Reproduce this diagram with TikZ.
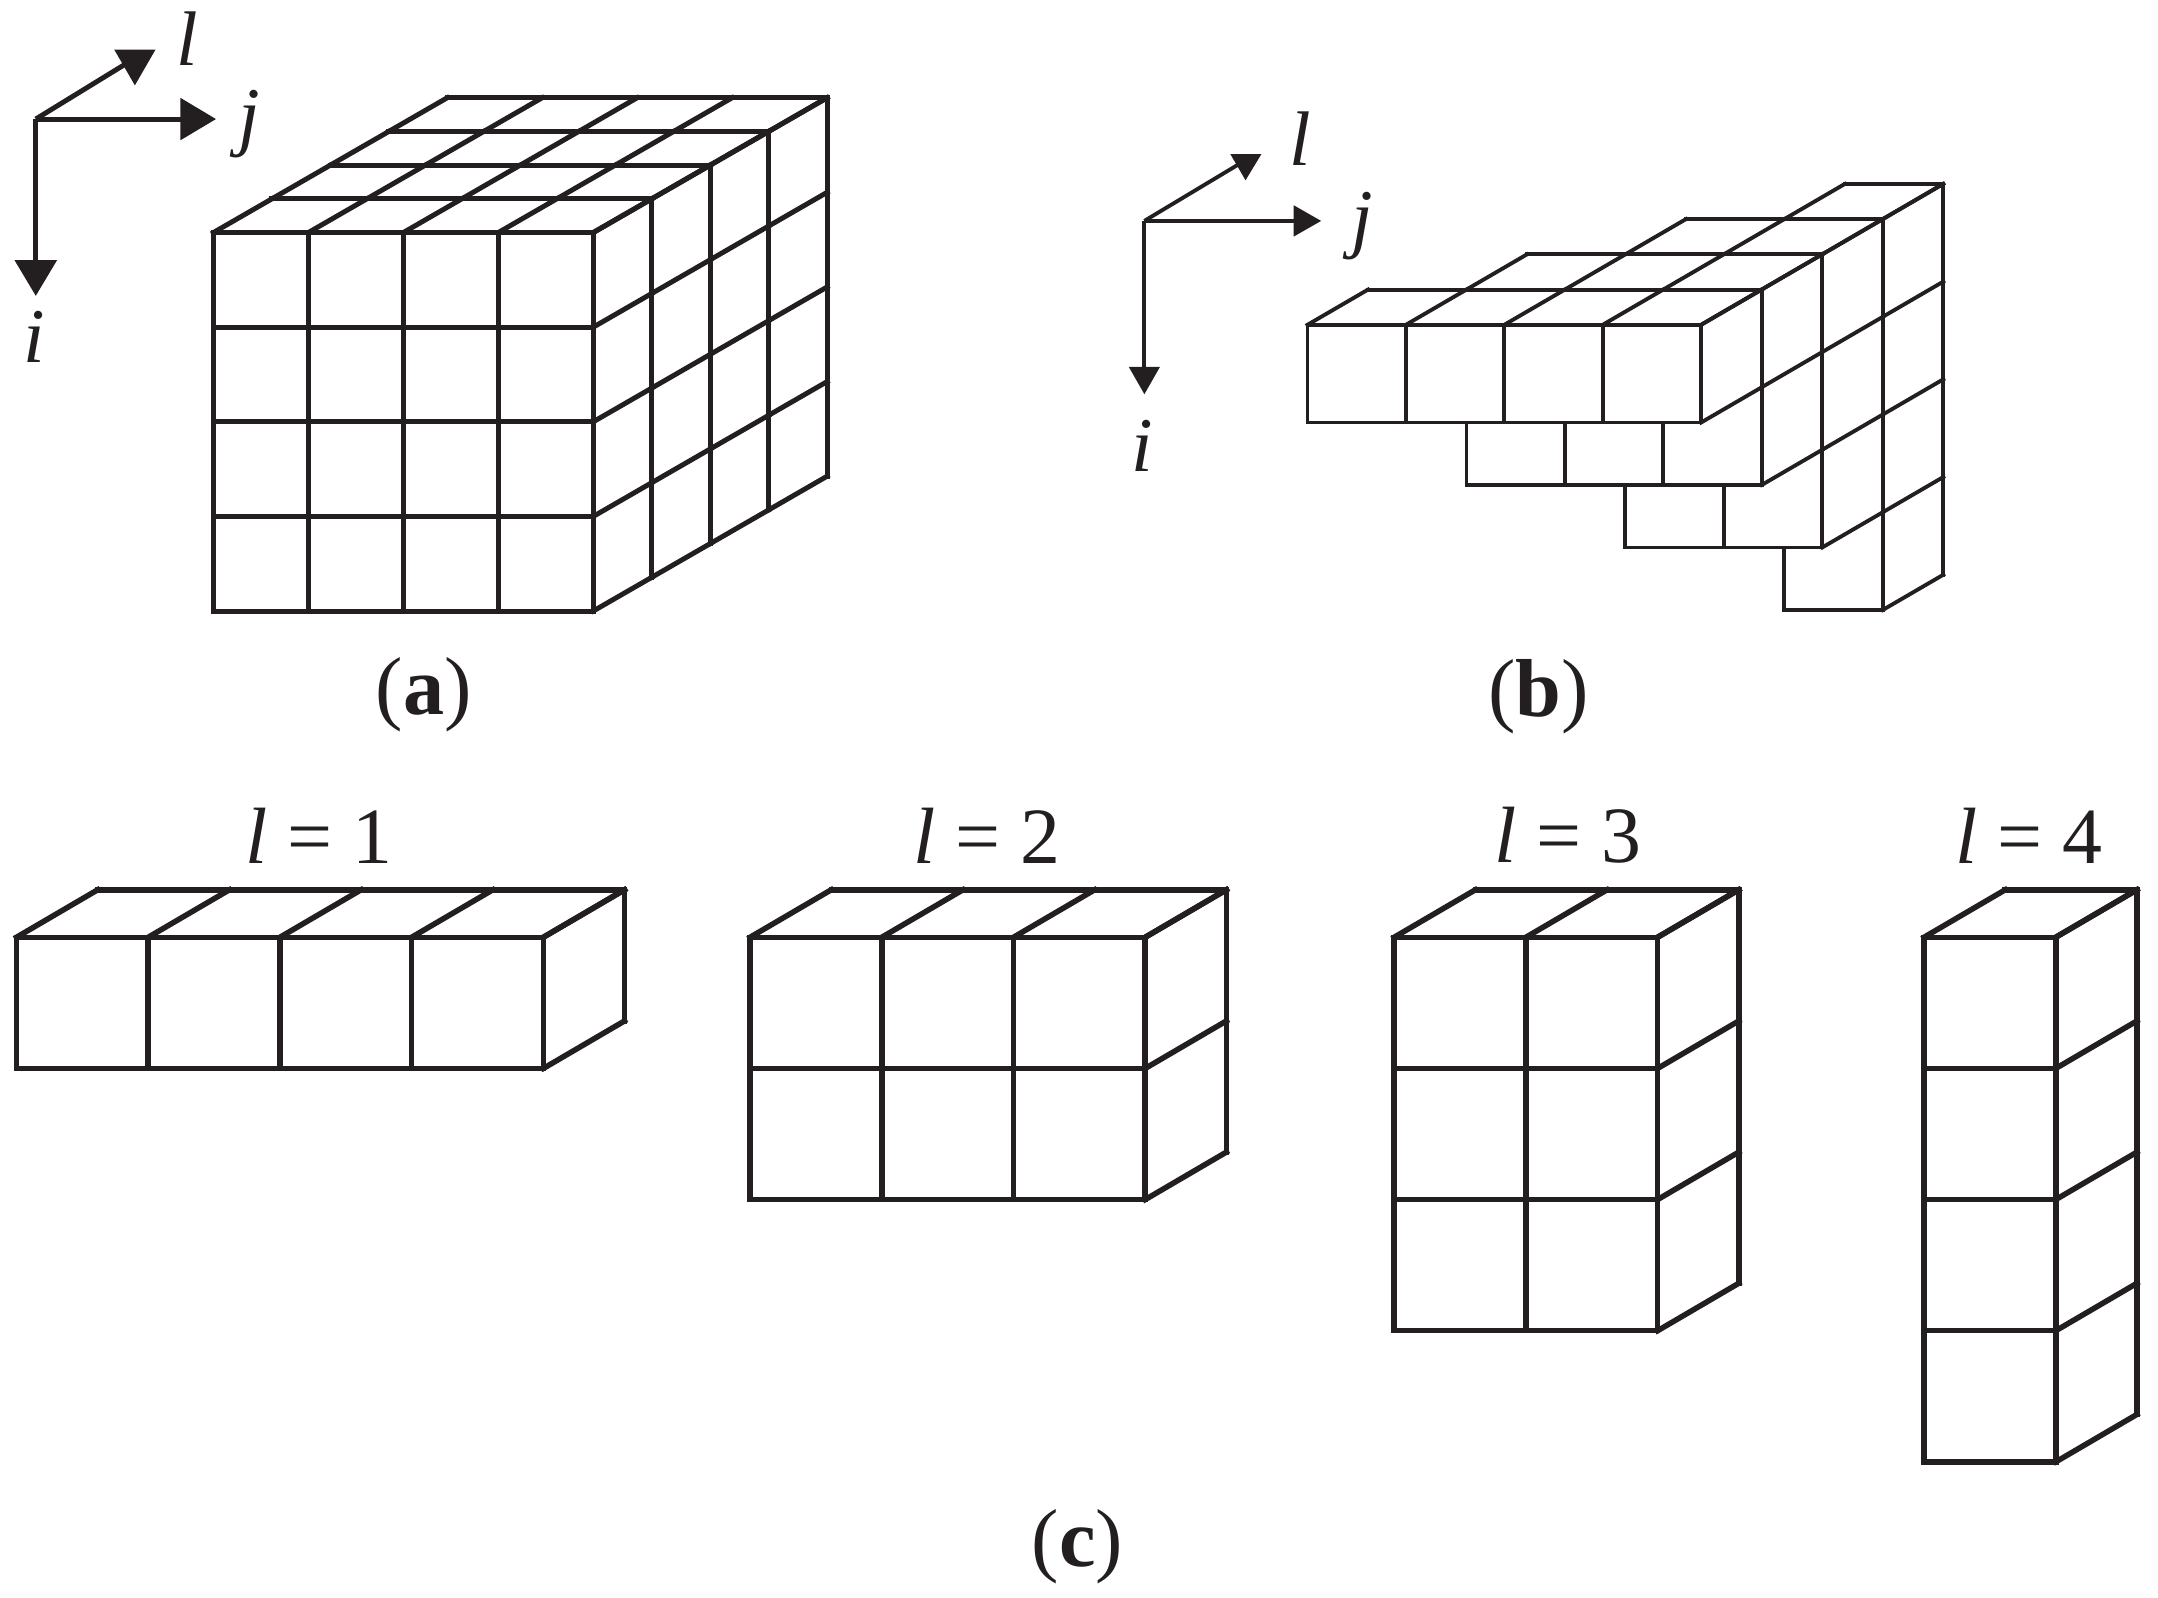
\documentclass[tikz,border=0pt]{standalone}
\usepackage{fontspec}
\setmainfont{Liberation Serif}
\usetikzlibrary{arrows.meta}
\definecolor{ink}{RGB}{35,31,32}
\tikzset{
    caption/.style={font=\fontsize{17}{20}\selectfont},
    axislabel/.style={font=\fontsize{16}{18}\selectfont\itshape},
    slicelabel/.style={font=\fontsize{16.5}{18}\selectfont},
    axisA/.style={line width=0.36mm,-{Triangle[length=2.6mm,width=3mm]}},
    axisB/.style={line width=0.28mm,-{Triangle[length=2mm,width=2.2mm]}},
    cubeview/.style={x={(6.9mm,0mm)},y={(0mm,-6.875mm)},z={(4.25mm,2.45mm)},line width=0.36mm},
    wedgeview/.style={x={(7.15mm,0mm)},y={(0mm,-7.1mm)},z={(4.4mm,2.56mm)},line width=0.28mm},
    sliceview/.style={x={(9.57mm,0mm)},y={(0mm,-9.53mm)},z={(5.9mm,3.45mm)},line width=0.4mm}
}
\newcommand{\cellslab}[4]{
    \fill[white] (#1,0,#4) -- (#1,#3,#4) -- (#2,#3,#4) -- (#2,#3,#4+1) -- (#2,0,#4+1) -- (#1,0,#4+1) -- cycle;
    \foreach \c in {#1,...,#2}{
        \draw[line cap=rect] (\c,0,#4) -- (\c,#3,#4);
        \draw[line cap=rect] (\c,0,#4) -- (\c,0,#4+1);
        };
    \foreach \r in {0,...,#3}{
        \draw[line cap=rect] (#1,\r,#4) -- (#2,\r,#4);
        \draw[line cap=rect] (#2,\r,#4) -- (#2,\r,#4+1);
        };
    \draw[line cap=rect] (#1,0,#4+1) -- (#2,0,#4+1) -- (#2,#3,#4+1);
}
\begin{document}
\begin{tikzpicture}[x=0.1mm,y=-0.1mm,color=ink]
    \useasboundingbox (0,0) rectangle (1568,1161);

    \coordinate (oA) at (26,86.5);
    \coordinate (jA) at (157,86.5);
    \coordinate (iA) at (26,215);
    \coordinate (lA) at (92,46);
    \draw[axisA] (oA) -- (jA);
    \draw[axisA] (oA) -- (iA);
    \draw[line width=0.36mm] (oA) -- (lA);
    \fill (83,36) -- (113,36) -- (98,62) -- cycle;
    \node[axislabel] (labellA) at (136,28) {l};
    \node[axislabel] (labeljA) at (181,90) {j};
    \node[axislabel] (labeliA) at (25,245) {i};

    \begin{scope}[shift={(155,169)},cubeview]
        \foreach \k in {3,2,1,0}{
            \cellslab{0}{4}{4}{\k}
            };
    \end{scope}
    \node[caption] (capA) at (308,505) {(\textbf{a})};

    \coordinate (oB) at (831.5,160.5);
    \coordinate (jB) at (960,160.5);
    \coordinate (iB) at (831.5,286.5);
    \coordinate (lB) at (899,120);
    \draw[axisB] (oB) -- (jB);
    \draw[axisB] (oB) -- (iB);
    \draw[line width=0.28mm] (oB) -- (lB);
    \fill (894,112) -- (916.5,112) -- (905,131) -- cycle;
    \node[axislabel] (labellB) at (945,101) {l};
    \node[axislabel] (labeljB) at (989.5,164) {j};
    \node[axislabel] (labeliB) at (830,324) {i};

    \begin{scope}[shift={(950,236)},wedgeview]
        \cellslab{3}{4}{4}{3}
        \cellslab{2}{4}{3}{2}
        \cellslab{1}{4}{2}{1}
        \cellslab{0}{4}{1}{0}
    \end{scope}
    \node[caption] (capB) at (1118,506) {(\textbf{b})};

    \node[slicelabel] (sliceone) at (232,607) {\textit{l} = 1};
    \node[slicelabel] (slicetwo) at (717,607) {\textit{l} = 2};
    \node[slicelabel] (slicethree) at (1139,607) {\textit{l} = 3};
    \node[slicelabel] (slicefour) at (1474,607) {\textit{l} = 4};

    \begin{scope}[shift={(12,681)},sliceview]
        \cellslab{0}{4}{1}{0}
    \end{scope}
    \begin{scope}[shift={(545,681)},sliceview]
        \cellslab{0}{3}{2}{0}
    \end{scope}
    \begin{scope}[shift={(1013,681)},sliceview]
        \cellslab{0}{2}{3}{0}
    \end{scope}
    \begin{scope}[shift={(1398,681)},sliceview]
        \cellslab{0}{1}{4}{0}
    \end{scope}
    \node[caption] (capC) at (783,1124) {(\textbf{c})};
\end{tikzpicture}
\end{document}
